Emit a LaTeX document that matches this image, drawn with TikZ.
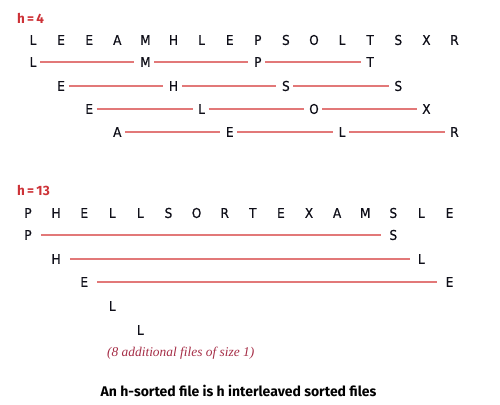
\documentclass[tikz,border=0pt]{standalone}
\usepackage{fontspec}
\newfontfamily\letf[FakeStretch=0.9,FakeBold=0.6]{DejaVu Sans}
\newfontfamily\capf{Fira Sans}
\newfontfamily\notef{Liberation Serif}
\definecolor{linered}{RGB}{226,120,120}
\definecolor{hred}{RGB}{205,50,55}
\definecolor{notered}{RGB}{165,45,70}
\definecolor{letc}{RGB}{15,15,25}
\begin{document}
\begin{tikzpicture}[x=1pt,y=-1pt,
  letter/.style={font=\letf\fontsize{13.5}{15}\selectfont, inner sep=0pt, text height=9.8pt, text depth=0pt, text=letc},
  hlabel/.style={font=\capf\bfseries\fontsize{13.5}{15}\selectfont, text=hred, anchor=west, inner sep=0pt},
  linkA/.style={draw=linered, line width=1.1pt, shorten <=3.5pt, shorten >=5.5pt},
  linkB/.style={draw=linered, line width=1.1pt, shorten <=9pt, shorten >=8pt}]
\useasboundingbox (0,0) rectangle (500,404);
% h = 4
\node[hlabel] (h4) at (17,18) {h\,=\,4};
\foreach \c [count=\i from 0] in {L,E,E,A,M,H,L,E,P,S,O,L,T,S,X,R}
  \node[letter] (t\i) at ({33+28.1*\i},40) {\c};
\foreach \i/\c in {0/L,4/M,8/P,12/T} \node[letter] (ra\i) at ({33+28.1*\i},62) {\c};
\foreach \i/\c in {1/E,5/H,9/S,13/S} \node[letter] (rb\i) at ({33+28.1*\i},86) {\c};
\foreach \i/\c in {2/E,6/L,10/O,14/X} \node[letter] (rc\i) at ({33+28.1*\i},109) {\c};
\foreach \i/\c in {3/A,7/E,11/L,15/R} \node[letter] (rd\i) at ({33+28.1*\i},132) {\c};
\foreach \a/\b in {0/4,4/8,8/12} \draw[linkA] (ra\a) -- (ra\b);
\foreach \a/\b in {1/5,5/9,9/13} \draw[linkA] (rb\a) -- (rb\b);
\foreach \a/\b in {2/6,6/10,10/14} \draw[linkA] (rc\a) -- (rc\b);
\foreach \a/\b in {3/7,7/11,11/15} \draw[linkA] (rd\a) -- (rd\b);
% h = 13
\node[hlabel] (h13) at (17,190) {h\,=\,13};
\foreach \c [count=\i from 0] in {P,H,E,L,L,S,O,R,T,E,X,A,M,S,L,E}
  \node[letter] (b\i) at ({28+28.1*\i},213) {\c};
\node[letter] (p0) at (28,235) {P};
\node[letter] (p13) at ({28+28.1*13},235) {S};
\node[letter] (q1) at ({28+28.1*1},259) {H};
\node[letter] (q14) at ({28+28.1*14},259) {L};
\node[letter] (s2) at ({28+28.1*2},282) {E};
\node[letter] (s15) at ({28+28.1*15},282) {E};
\node[letter] (u3) at ({28+28.1*3},306) {L};
\node[letter] (v4) at ({28+28.1*4},330) {L};
\draw[linkB] (p0) -- (p13);
\draw[linkB] (q1) -- (q14);
\draw[linkB] (s2) -- (s15);
\node[anchor=west, inner sep=0pt, text=notered, font=\notef\itshape\fontsize{13.4}{15}\selectfont] (note) at (107,353) {(8 additional files of size 1)};
\node[inner sep=0pt, font=\capf\bfseries\fontsize{14}{16}\selectfont, text=black] (cap) at (238.5,391) {An h-sorted file is h interleaved sorted files};
\end{tikzpicture}
\end{document}
